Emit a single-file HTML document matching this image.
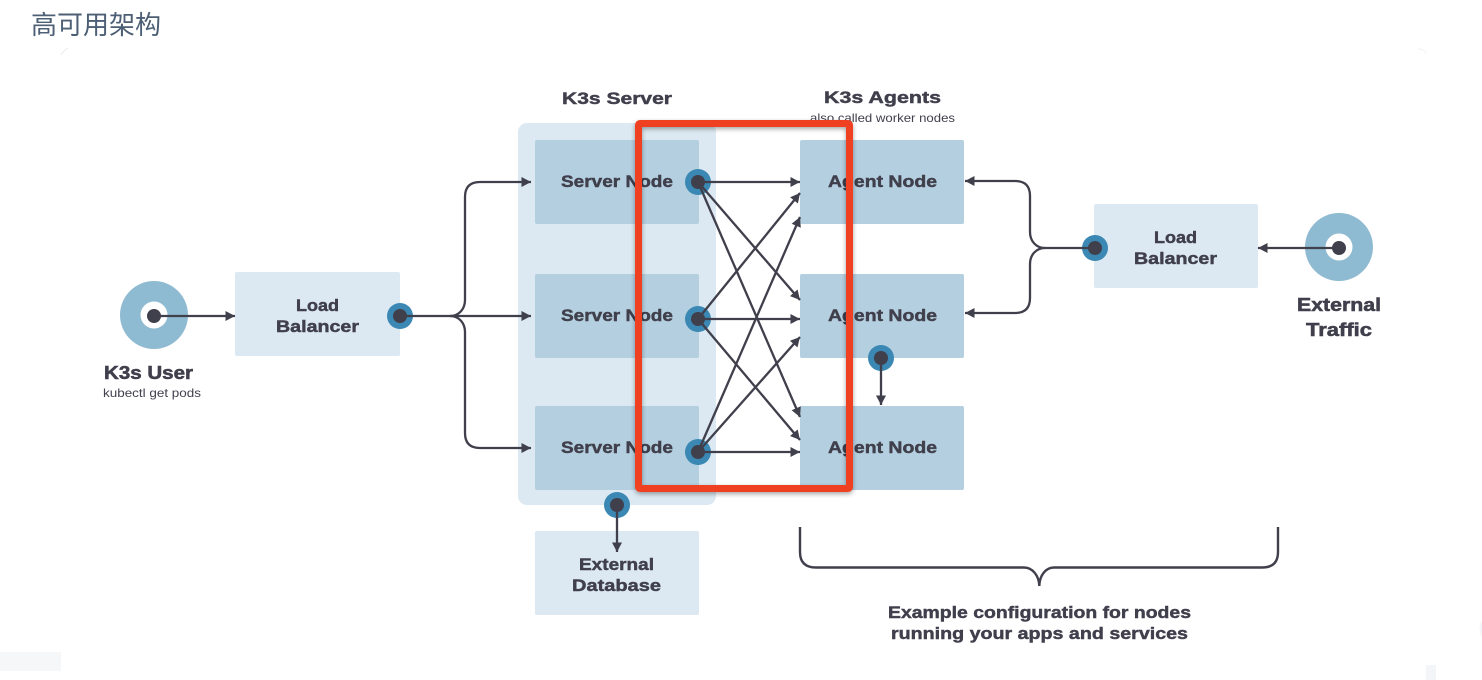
<!DOCTYPE html>
<html><head><meta charset="utf-8">
<style>
html,body{margin:0;padding:0;background:#fff;width:1482px;height:680px;overflow:hidden}
svg{display:block}
text{font-family:"Liberation Sans","Noto Sans CJK SC",sans-serif;fill:#403f4c}
.b{font-weight:700;font-size:17px;stroke:#403f4c;stroke-width:.45px}
.u{font-weight:700;font-size:18px;stroke:#403f4c;stroke-width:.55px}
.s{font-size:12px}
</style></head><body>
<svg width="1482" height="680" viewBox="0 0 1482 680" xmlns="http://www.w3.org/2000/svg">
<defs>
<marker id="a" markerUnits="userSpaceOnUse" markerWidth="12" markerHeight="12" refX="10" refY="6" orient="auto"><path d="M0.5 1L10 6L0.5 11Z" fill="#403f4c"/></marker>
<filter id="sh" x="-5%" y="-5%" width="110%" height="110%"><feDropShadow dx="0" dy="2" stdDeviation="2.5" flood-color="#000" flood-opacity=".35"/></filter>
</defs>

<!-- faint artefacts -->
<rect x="0" y="652" width="61" height="19" fill="#f6f7f9"/>
<rect x="1426" y="665" width="10" height="15" fill="#f3f5f8"/>
<path d="M1482 620q-5 9 0 18z" fill="#f3f5f8"/>
<path d="M61 55q2-4 7-7" fill="none" stroke="#e8eaed" stroke-width="1"/>
<path d="M1418 49q6 0 8 4" fill="none" stroke="#f2f3f5" stroke-width="1"/>

<text x="31" y="34" font-size="26" textLength="130" lengthAdjust="spacingAndGlyphs" style="fill:#4d5f75;font-family:'Noto Sans CJK SC',sans-serif;font-weight:400">高可用架构</text>

<!-- panels -->
<rect x="518" y="123" width="198" height="382" rx="9" fill="#dce9f2"/>
<g fill="#b4cfdf">
<rect x="535" y="140" width="164" height="84" rx="2"/>
<rect x="535" y="274" width="164" height="84" rx="2"/>
<rect x="535" y="406" width="164" height="84" rx="2"/>
<rect x="800" y="140" width="164" height="84" rx="2"/>
<rect x="800" y="274" width="164" height="84" rx="2"/>
<rect x="800" y="406" width="164" height="84" rx="2"/>
</g>
<g fill="#dce9f2">
<rect x="235" y="272" width="165" height="84" rx="2"/>
<rect x="1094" y="204" width="164" height="84" rx="2"/>
<rect x="535" y="531" width="164" height="84" rx="2"/>
</g>

<!-- end circles -->
<circle cx="154" cy="315" r="34" fill="#8fbbd2"/><circle cx="154" cy="315" r="13.5" fill="#fff"/>
<circle cx="1339" cy="247" r="34" fill="#8fbbd2"/><circle cx="1339" cy="247" r="13.5" fill="#fff"/>

<!-- blue dots -->
<g fill="#3a88b3">
<circle cx="698" cy="182" r="13"/><circle cx="698" cy="319" r="13"/><circle cx="698" cy="452" r="13"/>
<circle cx="400" cy="316" r="13"/><circle cx="1095" cy="248" r="13"/>
<circle cx="881" cy="358" r="13"/><circle cx="617" cy="505" r="13"/>
</g>

<!-- connectors -->
<path d="M1095 248H1045" fill="none" stroke="#403f4c" stroke-width="2.3"/>
<g fill="none" stroke="#403f4c" stroke-width="2.3">
<path d="M154 316H235" marker-end="url(#a)"/>
<path d="M400 316H531" marker-end="url(#a)"/>
<path d="M450 316C459 316 465 309 465 300V197Q465 182 480 182H531" marker-end="url(#a)"/>
<path d="M450 316C459 316 465 323 465 332V433Q465 448 480 448H531" marker-end="url(#a)"/>
<path d="M1045 248C1036 248 1030 241 1030 232V196Q1030 181 1015 181H965" marker-end="url(#a)"/>
<path d="M1045 248C1036 248 1030 255 1030 264V298Q1030 313 1015 313H965" marker-end="url(#a)"/>
<path d="M1339 248H1258" marker-end="url(#a)"/>
<path d="M881 358V405" marker-end="url(#a)"/>
<path d="M617 505V552" marker-end="url(#a)"/>
<path d="M698 182H800" marker-end="url(#a)"/>
<path d="M698 182L800 300" marker-end="url(#a)"/>
<path d="M698 182L800 417" marker-end="url(#a)"/>
<path d="M698 319L800 193" marker-end="url(#a)"/>
<path d="M698 319H800" marker-end="url(#a)"/>
<path d="M698 319L800 440" marker-end="url(#a)"/>
<path d="M698 452L800 217" marker-end="url(#a)"/>
<path d="M698 452L800 337" marker-end="url(#a)"/>
<path d="M698 452H800" marker-end="url(#a)"/>
</g>
<!-- brace -->
<path d="M800 527V552Q800 567.5 816 567.5H1024C1032 567.5 1039 575 1039.3 586C1039.6 575 1046 567.5 1054 567.5H1262Q1278 567.5 1278 552V527" fill="none" stroke="#403f4c" stroke-width="2.4"/>

<!-- dark dots -->
<g fill="#403f4c">
<circle cx="154" cy="316" r="7"/><circle cx="1339" cy="248" r="7"/>
<circle cx="698" cy="182" r="7"/><circle cx="698" cy="319" r="7"/><circle cx="698" cy="452" r="7"/>
<circle cx="400" cy="316" r="7"/><circle cx="1095" cy="248" r="7"/>
<circle cx="881" cy="358" r="7"/><circle cx="617" cy="505" r="7"/>
</g>

<!-- labels -->
<text class="b" x="562" y="104" textLength="110" lengthAdjust="spacingAndGlyphs">K3s Server</text>
<text class="b" x="824" y="103" textLength="117" lengthAdjust="spacingAndGlyphs">K3s Agents</text>
<text class="s" x="810" y="122" textLength="145" lengthAdjust="spacingAndGlyphs">also called worker nodes</text>

<text class="b" x="561" y="187" textLength="112" lengthAdjust="spacingAndGlyphs">Server Node</text>
<text class="b" x="561" y="321" textLength="112" lengthAdjust="spacingAndGlyphs">Server Node</text>
<text class="b" x="561" y="453" textLength="112" lengthAdjust="spacingAndGlyphs">Server Node</text>
<text class="b" x="828" y="187" textLength="109" lengthAdjust="spacingAndGlyphs">Agent Node</text>
<text class="b" x="828" y="321" textLength="109" lengthAdjust="spacingAndGlyphs">Agent Node</text>
<text class="b" x="828" y="453" textLength="109" lengthAdjust="spacingAndGlyphs">Agent Node</text>

<text class="b" x="296" y="311" textLength="43" lengthAdjust="spacingAndGlyphs">Load</text>
<text class="b" x="276" y="332" textLength="83" lengthAdjust="spacingAndGlyphs">Balancer</text>
<text class="b" x="1154" y="243" textLength="43" lengthAdjust="spacingAndGlyphs">Load</text>
<text class="b" x="1134" y="264" textLength="83" lengthAdjust="spacingAndGlyphs">Balancer</text>

<text class="u" x="104" y="379" textLength="89" lengthAdjust="spacingAndGlyphs">K3s User</text>
<text class="s" x="103" y="397" textLength="98" lengthAdjust="spacingAndGlyphs">kubectl get pods</text>
<text class="u" x="1297" y="311" textLength="84" lengthAdjust="spacingAndGlyphs">External</text>
<text class="u" x="1306" y="336" textLength="66" lengthAdjust="spacingAndGlyphs">Traffic</text>
<text class="b" x="579" y="570" textLength="75" lengthAdjust="spacingAndGlyphs">External</text>
<text class="b" x="572" y="591" textLength="89" lengthAdjust="spacingAndGlyphs">Database</text>
<text class="b" x="888" y="618" textLength="303" lengthAdjust="spacingAndGlyphs">Example configuration for nodes</text>
<text class="b" x="891" y="639" textLength="297" lengthAdjust="spacingAndGlyphs">running your apps and services</text>

<!-- red highlight -->
<rect x="638.5" y="123.5" width="211" height="365" rx="1.5" fill="none" stroke="#f04023" stroke-width="7" filter="url(#sh)"/>
</svg>
</body></html>
